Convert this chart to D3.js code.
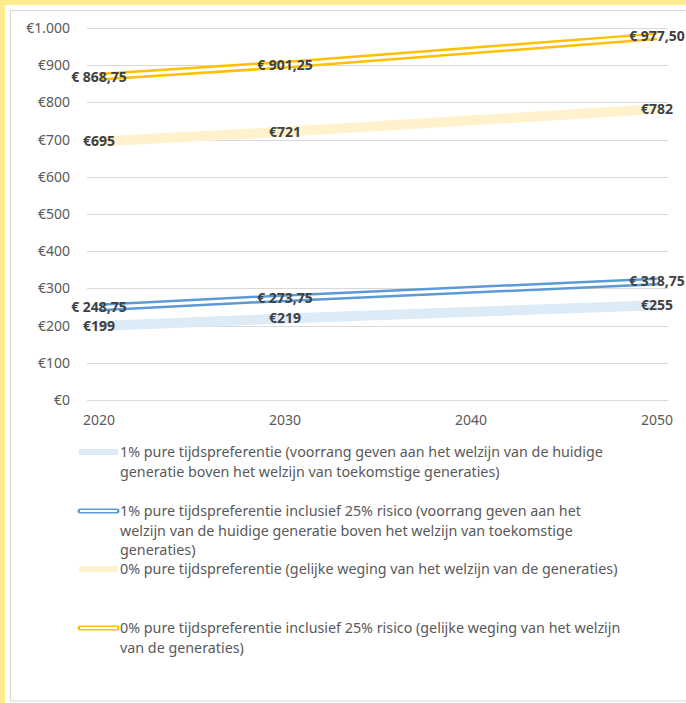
<!DOCTYPE html>
<html>
<head>
<meta charset="utf-8">
<script src="https://cdn.jsdelivr.net/npm/d3@7"></script>
<style>
html,body{margin:0;padding:0;background:#FFEA8F;}
svg{display:block;}
text{font-family:"Noto Sans","Open Sans",sans-serif;}
</style>
</head>
<body>
<svg id="chart" width="686" height="703"></svg>
<script>
// ---- data ----
const years = [2020, 2030, 2050];
const xTicks = [2020, 2030, 2040, 2050];
const yTicks = [0, 100, 200, 300, 400, 500, 600, 700, 800, 900, 1000];
const s1 = [199, 219, 255];                 // 1% pure tijdspreferentie
const s2 = [248.75, 273.75, 318.75];        // 1% incl. 25% risico
const s3 = [695, 721, 782];                 // 0% pure tijdspreferentie
const s4 = [868.75, 901.25, 977.50];        // 0% incl. 25% risico
const legendLabels = [
  ["1% pure tijdspreferentie (voorrang geven aan het welzijn van de huidige",
   "generatie boven het welzijn van toekomstige generaties)"],
  ["1% pure tijdspreferentie inclusief 25% risico (voorrang geven aan het",
   "welzijn van de huidige generatie boven het welzijn van toekomstige",
   "generaties)"],
  ["0% pure tijdspreferentie (gelijke weging van het welzijn van de generaties)"],
  ["0% pure tijdspreferentie inclusief 25% risico (gelijke weging van het welzijn",
   "van de generaties)"]
];

const nl = d3.formatLocale({decimal: ",", thousands: ".", grouping: [3], currency: ["€", ""]});
const fInt = nl.format(",.0f");
const f2 = nl.format(",.2f");

const series = [
  {vals: s1, type: "solid", color: "#DDEBF7", fmt: v => "€" + fInt(v)},
  {vals: s2, type: "double", color: "#5B9BD5", fmt: v => "€ " + f2(v)},
  {vals: s3, type: "solid", color: "#FFF2CC", fmt: v => "€" + fInt(v)},
  {vals: s4, type: "double", color: "#FFC000", fmt: v => "€ " + f2(v)}
];

const svg = d3.select("#chart");
// white chart area with border
svg.append("rect").attr("x", 5).attr("y", 5).attr("width", 700).attr("height", 703).attr("fill", "#fff");
svg.append("rect").attr("x", 10.5).attr("y", 10.5).attr("width", 690).attr("height", 690.5)
  .attr("fill", "#fff").attr("stroke", "#D9D9D9").attr("stroke-width", 1);

const x = d3.scaleLinear().domain([2020, 2050]).range([99, 657]);
const y = d3.scaleLinear().domain([0, 1000]).range([400, 28]);
const gridL = 87, gridR = 668;

// gridlines
svg.append("g").selectAll("line").data(yTicks).join("line")
  .attr("x1", gridL).attr("x2", gridR)
  .attr("y1", d => Math.round(y(d)) + 0.5).attr("y2", d => Math.round(y(d)) + 0.5)
  .attr("stroke", "#D9D9D9").attr("stroke-width", 1);

// y axis labels
svg.append("g").selectAll("text").data(yTicks).join("text")
  .attr("x", 70).attr("y", d => y(d)).attr("dy", "0.35em")
  .attr("text-anchor", "end").attr("font-size", 14).attr("fill", "#595959")
  .text(d => "€" + fInt(d));

// x axis labels
svg.append("g").selectAll("text").data(xTicks).join("text")
  .attr("x", d => x(d)).attr("y", 420).attr("dy", "0.35em")
  .attr("text-anchor", "middle").attr("font-size", 14).attr("fill", "#595959")
  .text(d => d);

const line = d3.line().x(d => x(d[0])).y(d => y(d[1]));

series.forEach(s => {
  const pts = years.map((yr, i) => [yr, s.vals[i]]);
  if (s.type === "solid") {
    svg.append("path").attr("d", line(pts)).attr("fill", "none")
      .attr("stroke", s.color).attr("stroke-width", 10).attr("stroke-linejoin", "round");
  } else {
    svg.append("path").attr("d", line(pts)).attr("fill", "none")
      .attr("stroke", s.color).attr("stroke-width", 8).attr("stroke-linejoin", "round");
    svg.append("path").attr("d", line(pts)).attr("fill", "none")
      .attr("stroke", "#fff").attr("stroke-width", 3).attr("stroke-linejoin", "round");
  }
});

// data labels
series.forEach(s => {
  svg.append("g").selectAll("text").data(years.map((yr, i) => [yr, s.vals[i]])).join("text")
    .attr("x", d => x(d[0])).attr("y", d => y(d[1])).attr("dy", "0.35em")
    .attr("text-anchor", "middle").attr("font-size", 14).attr("font-weight", "bold")
    .attr("fill", "#404040")
    .text(d => s.fmt(d[1]));
});

// legend
const legendY = [452, 511, 569, 628];
const lh = 19.5;
series.forEach((s, i) => {
  const g = svg.append("g");
  const yy = legendY[i];
  if (s.type === "solid") {
    g.append("line").attr("x1", 79).attr("x2", 118).attr("y1", yy).attr("y2", yy)
      .attr("stroke", s.color).attr("stroke-width", 6);
  } else {
    g.append("line").attr("x1", 80).attr("x2", 117).attr("y1", yy).attr("y2", yy)
      .attr("stroke", s.color).attr("stroke-width", 5).attr("stroke-linecap", "round");
    g.append("line").attr("x1", 80).attr("x2", 117).attr("y1", yy).attr("y2", yy)
      .attr("stroke", "#fff").attr("stroke-width", 2);
  }
  legendLabels[i].forEach((t, j) => {
    g.append("text").attr("x", 120).attr("y", yy + j * lh).attr("dy", "0.35em")
      .attr("font-size", 14.3).attr("fill", "#595959").text(t);
  });
});
</script>
</body>
</html>
